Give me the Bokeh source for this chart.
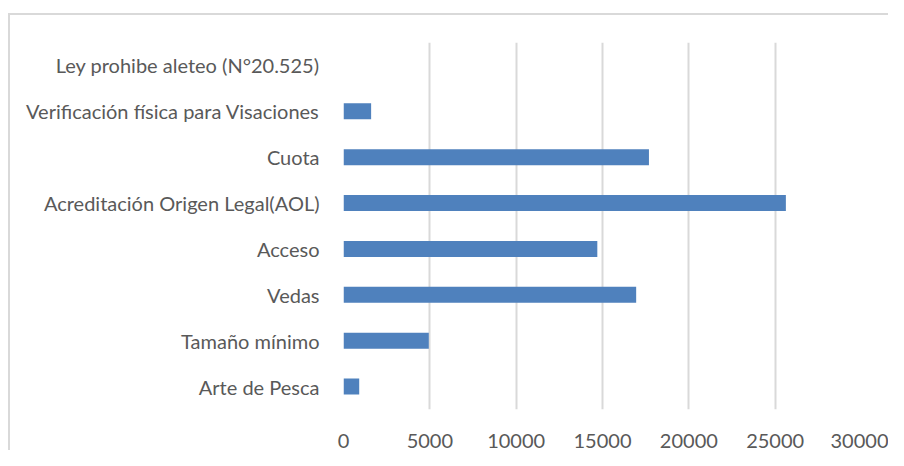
from bokeh.plotting import figure
from bokeh.models import Range1d, FactorRange, FixedTicker
from bokeh.embed import file_html
from bokeh.resources import INLINE

categories = [
    "Arte de Pesca",
    "Tamaño mínimo",
    "Vedas",
    "Acceso",
    "Acreditación Origen Legal(AOL)",
    "Cuota",
    "Verificación física para Visaciones",
    "Ley prohibe aleteo (N°20.525)",
]
values = [910, 4940, 16950, 14700, 25620, 17690, 1600, 0]
x_ticks = [0, 5000, 10000, 15000, 20000, 25000, 30000]

FONT = "Lato"
TEXT_COLOR = "#595959"
GRID_COLOR = "#d9d9d9"

p = figure(
    y_range=FactorRange(factors=categories, range_padding=0),
    x_range=Range1d(0, 30000),
    width=888,
    height=450,
    output_backend="svg",
    toolbar_location=None,
    min_border_left=343,
    min_border_right=27,
    min_border_top=42,
    min_border_bottom=39,
)
p.styles = {
    "background-color": "white",
    "background-image": "linear-gradient(#d9d9d9, #d9d9d9), linear-gradient(#d9d9d9, #d9d9d9)",
    "background-size": "100% 2px, 2px 100%",
    "background-position": "8px 13px, 8px 13px",
    "background-repeat": "no-repeat",
}

p.hbar(y=categories, right=values, left=0, height=0.35,
       fill_color="#4f81bd", line_color=None)

p.outline_line_color = None
p.background_fill_color = "white"
p.border_fill_color = None

p.ygrid.grid_line_color = None
p.xgrid.grid_line_color = GRID_COLOR
p.xgrid.grid_line_width = 2
p.xgrid.ticker = FixedTicker(ticks=x_ticks)

p.xaxis.ticker = FixedTicker(ticks=x_ticks)
p.xaxis.axis_line_color = None
p.xaxis.major_tick_line_color = None
p.xaxis.minor_tick_line_color = None
p.xaxis.major_label_text_font = FONT
p.xaxis.major_label_text_font_size = "20px"
p.xaxis.major_label_text_color = TEXT_COLOR
p.xaxis.major_label_standoff = 18

p.yaxis.axis_line_color = None
p.yaxis.major_tick_line_color = None
p.yaxis.minor_tick_line_color = None
p.yaxis.major_label_text_font = FONT
p.yaxis.major_label_text_font_size = "20px"
p.yaxis.major_label_text_color = TEXT_COLOR
p.yaxis.major_label_standoff = 18

open("out.html", "w").write(file_html(p, INLINE))
